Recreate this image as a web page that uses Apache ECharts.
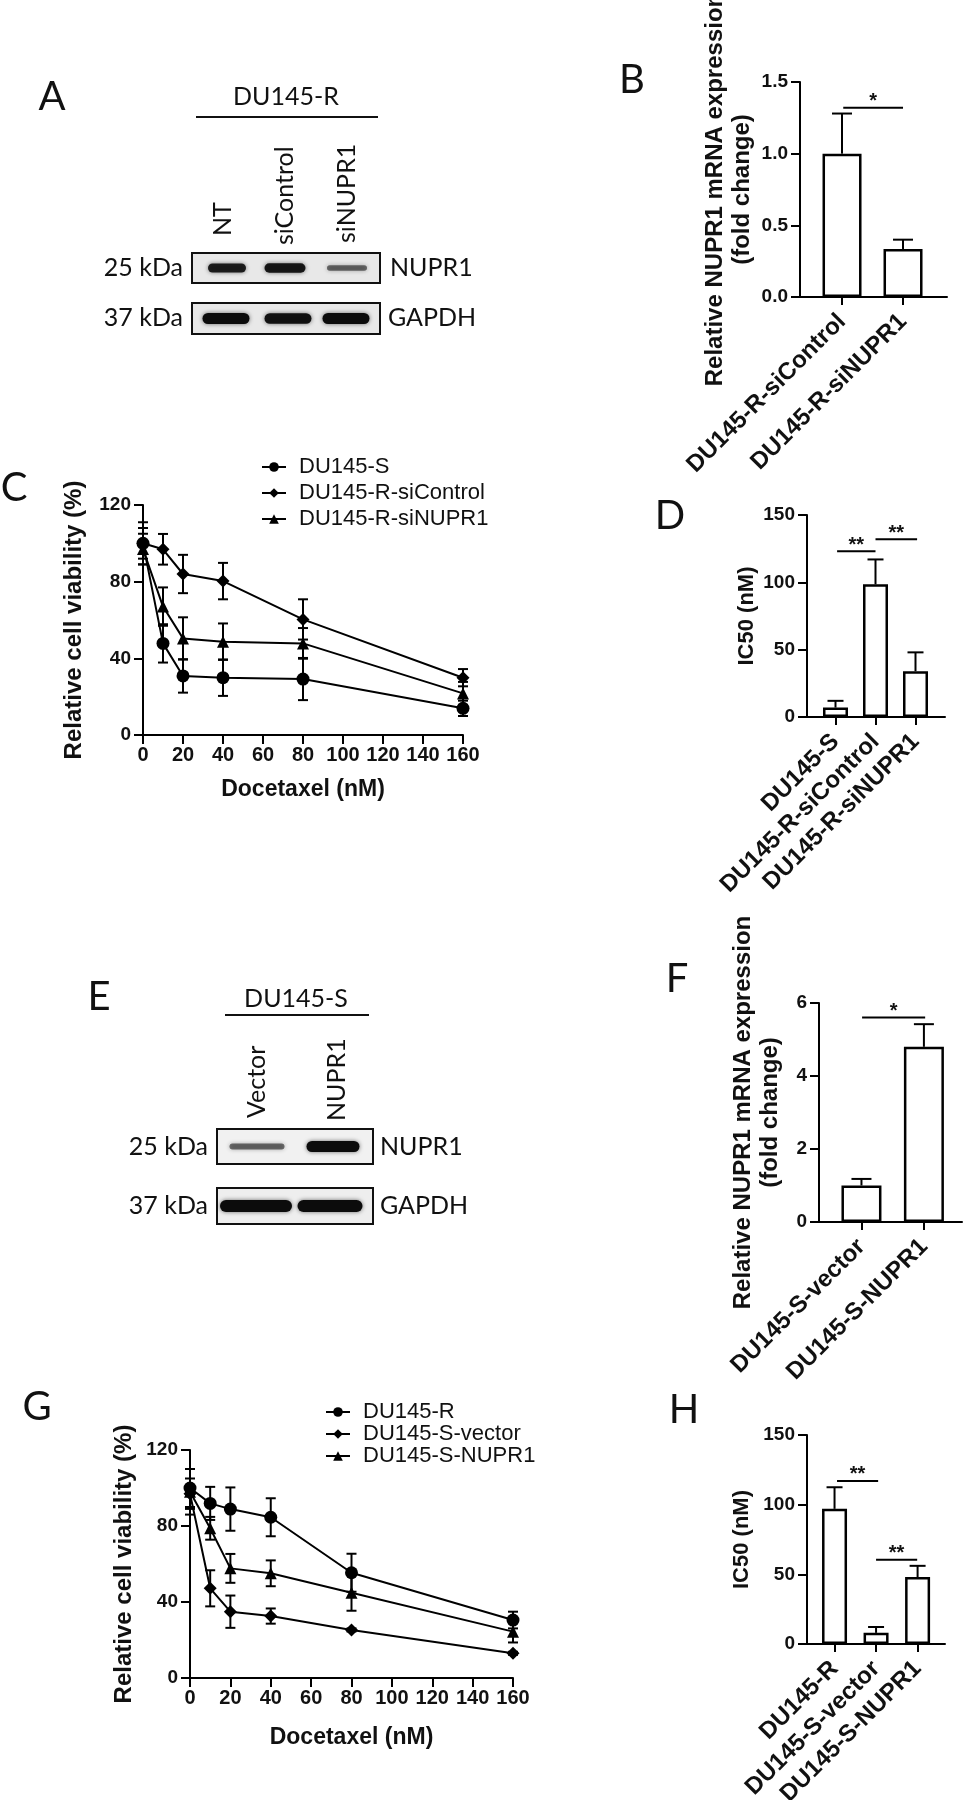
<!DOCTYPE html>
<html>
<head>
<meta charset="utf-8">
<script src="https://cdn.jsdelivr.net/npm/echarts@6/dist/echarts.min.js"></script>
<style>
html, body { margin: 0; padding: 0; background: #fff; }
#chart { width: 967px; height: 1800px; }
</style>
</head>
<body>
<div id="chart"></div>
<script>
// ---------- data ----------
// A / E : western blot lanes and relative band strength
var lanesA = ['NT', 'siControl', 'siNUPR1'];
var bandA_nupr1 = [0.85, 0.9, 0.3];
var bandA_gapdh = [1, 0.95, 1];
var lanesE = ['Vector', 'NUPR1'];
var bandE_nupr1 = [0.3, 1];
var bandE_gapdh = [1, 1];

// B : NUPR1 mRNA, DU145-R
var catB = ['DU145-R-siControl', 'DU145-R-siNUPR1'];
var meanB = [1.0, 0.335];
var errB = [0.28, 0.065];
var sigB = [[0.02, 1.0, 1.32, '*']];

// C : viability, DU145-R knockdown
var doses = [0, 10, 20, 40, 80, 160];
var cS = [100, 47.8, 30.8, 29.9, 29.2, 13.9];
var cS_err = [8, 10, 8.7, 9.5, 11, 4];
var cCtrl = [100, 96.9, 84, 80.3, 60.3, 29.9];
var cCtrl_err = [11, 8, 10, 9.5, 10.5, 4.5];
var cSi = [97, 67, 50.4, 48.7, 47.8, 21.7];
var cSi_err = [8, 10, 11, 9.5, 8, 6];

// D : IC50, DU145-R knockdown
var catD = ['DU145-S', 'DU145-R-siControl', 'DU145-R-siNUPR1'];
var meanD = [7, 98.5, 34];
var errD = [5, 18.5, 14];
var sigD = [[0.04, 1.0, 123, '**'], [1.0, 2.04, 132, '**']];

// F : NUPR1 mRNA, DU145-S overexpression
var catF = ['DU145-S-vector', 'DU145-S-NUPR1'];
var meanF = [1.0, 4.8];
var errF = [0.18, 0.62];
var sigF = [[0.01, 1.02, 5.6, '*']];

// G : viability, DU145-S overexpression
var gR = [100, 91.9, 88.9, 84.6, 55.4, 30.5];
var gR_err = [10, 8.7, 11.4, 10, 10, 4.4];
var gVec = [97, 47.2, 34.9, 32.6, 25.3, 13];
var gVec_err = [8, 9.5, 8.5, 4, 0.8, 0.8];
var gNu = [98, 78.8, 57.7, 55.1, 44.9, 24.4];
var gNu_err = [12, 6, 7.6, 6.8, 9.5, 5.7];

// H : IC50, DU145-S overexpression
var catH = ['DU145-R', 'DU145-S-vector', 'DU145-S-NUPR1'];
var meanH = [97, 8, 48];
var errH = [15.5, 4.2, 8.1];
var sigH = [[0.06, 1.05, 117, '**'], [1.0, 1.99, 60.5, '**']];

// ---------- helpers ----------
var FB = 'Liberation Sans';   // plot text (Arial look)
var FL = 'Lato';              // letters + blot text (Calibri look)
var INK = '#111';
var lineSt = { color: '#000', width: 2 };

function yAx(gi, min, max, step, name, gap, fmt, nameSize) {
  return {
    type: 'value', gridIndex: gi, min: min, max: max, interval: step,
    name: name, nameLocation: 'middle', nameGap: gap, nameMoveOverlap: false,
    nameTextStyle: { fontFamily: FB, fontWeight: 'bold', fontSize: nameSize || 24, color: INK, lineHeight: 27 },
    axisLine: { show: true, onZero: false, lineStyle: lineSt },
    axisTick: { show: true, length: 9, lineStyle: lineSt },
    axisLabel: { fontFamily: FB, fontWeight: 'bold', fontSize: 19, color: INK, margin: 12, formatter: fmt },
    splitLine: { show: false }
  };
}

function doseAx(gi, gap) {
  return {
    type: 'value', gridIndex: gi, min: 0, max: 160, interval: 20,
    name: 'Docetaxel (nM)', nameLocation: 'middle', nameGap: gap, nameMoveOverlap: false,
    nameTextStyle: { fontFamily: FB, fontWeight: 'bold', fontSize: 23, color: INK, lineHeight: 26 },
    axisLine: { onZero: false, lineStyle: lineSt },
    axisTick: { length: 9, lineStyle: lineSt },
    axisLabel: { fontFamily: FB, fontWeight: 'bold', fontSize: 20, color: INK, margin: 10 },
    splitLine: { show: false }
  };
}

// bar plots use a value x axis so the bar spacing can match GraphPad
function catAx(gi, min, max, cats) {
  var idx = cats.map(function (c, i) { return i; });
  return {
    type: 'value', gridIndex: gi, min: min, max: max,
    axisLine: { onZero: false, lineStyle: lineSt },
    axisTick: { customValues: idx, length: 8, lineStyle: lineSt },
    axisLabel: {
      customValues: idx, rotate: 45, margin: 21,
      fontFamily: FB, fontWeight: 'bold', fontSize: 24, color: INK,
      formatter: function (v) { return cats[Math.round(v)] || ''; }
    },
    splitLine: { show: false }
  };
}

function bars(gi, means, w) {
  return {
    type: 'bar', xAxisIndex: gi, yAxisIndex: gi, barWidth: w, silent: true, z: 2,
    data: means.map(function (m, i) { return [i, m]; }),
    itemStyle: { color: '#fff', borderColor: '#000', borderWidth: 2.5 }
  };
}

function barErr(gi, means, errs, cap) {
  return {
    type: 'custom', xAxisIndex: gi, yAxisIndex: gi, silent: true, z: 3,
    data: means.map(function (m, i) { return [i, m, errs[i]]; }),
    encode: { x: 0, y: 1 },
    renderItem: function (p, api) {
      var x = api.value(0), m = api.value(1), e = api.value(2);
      var a = api.coord([x, m]), b = api.coord([x, m + e]);
      var st = { stroke: '#000', lineWidth: 2 };
      return { type: 'group', children: [
        { type: 'line', shape: { x1: a[0], y1: a[1], x2: b[0], y2: b[1] }, style: st },
        { type: 'line', shape: { x1: b[0] - cap, y1: b[1], x2: b[0] + cap, y2: b[1] }, style: st }
      ] };
    }
  };
}

function sigMarks(gi, sig) {
  return {
    type: 'custom', xAxisIndex: gi, yAxisIndex: gi, silent: true, z: 4,
    data: sig.map(function (s) { return [s[0], s[2]]; }),
    encode: { x: 0, y: 1 },
    renderItem: function (p, api) {
      var s = sig[p.dataIndex];
      var a = api.coord([s[0], s[2]]), b = api.coord([s[1], s[2]]);
      return { type: 'group', children: [
        { type: 'line', shape: { x1: a[0], y1: a[1], x2: b[0], y2: b[1] }, style: { stroke: '#000', lineWidth: 2 } },
        { type: 'text', x: (a[0] + b[0]) / 2, y: a[1] - 6,
          style: { text: s[3], fontFamily: FB, fontWeight: 'bold', fontSize: 20, fill: INK, align: 'center', verticalAlign: 'middle' } }
      ] };
    }
  };
}

function curve(gi, name, vals, symbol, size) {
  return {
    type: 'line', name: name, xAxisIndex: gi, yAxisIndex: gi, silent: true, z: 3,
    data: doses.map(function (d, i) { return [d, vals[i]]; }),
    symbol: symbol, symbolSize: size, showSymbol: true,
    lineStyle: { color: '#000', width: 2 }, itemStyle: { color: '#000' }
  };
}

function curveErr(gi, vals, errs) {
  return {
    type: 'custom', xAxisIndex: gi, yAxisIndex: gi, silent: true, z: 2,
    data: doses.map(function (d, i) { return [d, vals[i], errs[i]]; }),
    encode: { x: 0, y: 1 },
    renderItem: function (p, api) {
      var x = api.value(0), m = api.value(1), e = api.value(2);
      var hi = api.coord([x, m + e]), lo = api.coord([x, m - e]);
      var st = { stroke: '#000', lineWidth: 2 };
      var c = 5;
      return { type: 'group', children: [
        { type: 'line', shape: { x1: hi[0], y1: hi[1], x2: lo[0], y2: lo[1] }, style: st },
        { type: 'line', shape: { x1: hi[0] - c, y1: hi[1], x2: hi[0] + c, y2: hi[1] }, style: st },
        { type: 'line', shape: { x1: lo[0] - c, y1: lo[1], x2: lo[0] + c, y2: lo[1] }, style: st }
      ] };
    }
  };
}

function legendCfg(names, left, top, lh, gap) {
  return {
    data: names, orient: 'vertical', left: left, top: top,
    itemWidth: 24, itemHeight: 12, itemGap: gap, selectedMode: false,
    textStyle: { fontFamily: FB, fontSize: 22, color: INK, lineHeight: lh, padding: [0, 0, 0, 8] }
  };
}

// ---------- graphic: panel letters and blots ----------
var gfx = [];
function txt(x, y, s, size, align, font, rot) {
  gfx.push({
    type: 'text', x: x, y: y, rotation: rot || 0, silent: true,
    style: { text: s, fontFamily: font || FL, fontSize: size, fill: INK, align: align || 'center', verticalAlign: 'middle' }
  });
}
function hline(x1, x2, y) {
  gfx.push({ type: 'line', silent: true, shape: { x1: x1, y1: y, x2: x2, y2: y }, style: { stroke: '#111', lineWidth: 2 } });
}
function blot(x, y, w, h, bg, centers, widths, intens, thick) {
  gfx.push({ type: 'rect', silent: true, shape: { x: x, y: y, width: w, height: h }, style: { fill: bg, stroke: '#111', lineWidth: 2 } });
  centers.forEach(function (c, i) {
    var bh = thick * (0.35 + 0.65 * intens[i]);
    gfx.push({
      type: 'rect', silent: true,
      shape: { x: c - widths[i] / 2, y: y + h / 2 - bh / 2, width: widths[i], height: bh, r: bh / 2 },
      style: { fill: 'rgba(12,12,12,' + (0.35 + 0.65 * intens[i]) + ')', shadowBlur: 4, shadowColor: 'rgba(0,0,0,0.55)' }
    });
  });
}

// panel letters
[['A', 52, 97], ['B', 632, 80], ['C', 14, 488], ['D', 670, 516],
 ['E', 99, 997], ['F', 677, 979], ['G', 37, 1407], ['H', 684, 1410]].forEach(function (l) {
  txt(l[1], l[2], l[0], 40);
});

// A blot
txt(286, 97, 'DU145-R', 25);
hline(196, 378, 117);
var laneAx = [223, 285, 347], laneAy = [236, 245, 243];
lanesA.forEach(function (s, i) { txt(laneAx[i], laneAy[i], s, 25, 'left', FL, Math.PI / 2); });
blot(192, 253, 188, 30, '#e8e8e8', [227, 285, 347], [38, 41, 40], bandA_nupr1, 10);
blot(192, 303, 188, 31, '#e8e8e8', [226, 288, 346], [47, 47, 47], bandA_gapdh, 11);
txt(183, 268, '25 kDa', 25, 'right');
txt(183, 318, '37 kDa', 25, 'right');
txt(390, 268, 'NUPR1', 25, 'left');
txt(388, 318, 'GAPDH', 25, 'left');

// E blot
txt(296, 999, 'DU145-S', 25);
hline(225, 369, 1015);
var laneEx = [257, 337], laneEy = [1118, 1121];
lanesE.forEach(function (s, i) { txt(laneEx[i], laneEy[i], s, 25, 'left', FL, Math.PI / 2); });
blot(217, 1129, 156, 35, '#f1f1f1', [257, 333], [55, 53], bandE_nupr1, 11);
blot(217, 1188, 156, 36, '#eeeeee', [256, 330], [72, 65], bandE_gapdh, 12);
txt(208, 1147, '25 kDa', 25, 'right');
txt(208, 1206, '37 kDa', 25, 'right');
txt(380, 1147, 'NUPR1', 25, 'left');
txt(380, 1206, 'GAPDH', 25, 'left');

// ---------- chart ----------
var chart = echarts.init(document.getElementById('chart'));
var option = {
  backgroundColor: '#fff',
  animation: false,
  grid: [
    { left: 800, top: 82, width: 147, height: 215, outerBoundsMode: 'none' },   // B
    { left: 143, top: 505, width: 320, height: 230, outerBoundsMode: 'none' },  // C
    { left: 807, top: 515, width: 138, height: 202, outerBoundsMode: 'none' },  // D
    { left: 819, top: 1003, width: 143, height: 219, outerBoundsMode: 'none' }, // F
    { left: 190, top: 1450, width: 323, height: 228, outerBoundsMode: 'none' }, // G
    { left: 807, top: 1435, width: 138, height: 209, outerBoundsMode: 'none' }  // H
  ],
  xAxis: [
    catAx(0, -0.689, 1.721, catB),
    doseAx(1, 42),
    catAx(2, -0.7125, 2.7375, catD),
    catAx(3, -0.68, 1.61, catF),
    doseAx(4, 47),
    catAx(5, -0.663, 2.66, catH)
  ],
  yAxis: [
    yAx(0, 0, 1.5, 0.5, 'Relative NUPR1 mRNA expression\n(fold change)', 44, function (v) { return v.toFixed(1); }),
    yAx(1, 0, 120, 40, 'Relative cell viability (%)', 55),
    yAx(2, 0, 150, 50, 'IC50 (nM)', 47, null, 22),
    yAx(3, 0, 6, 2, 'Relative NUPR1 mRNA expression\n(fold change)', 35),
    yAx(4, 0, 120, 40, 'Relative cell viability (%)', 52),
    yAx(5, 0, 150, 50, 'IC50 (nM)', 52, null, 22)
  ],
  legend: [
    legendCfg(['DU145-S', 'DU145-R-siControl', 'DU145-R-siNUPR1'], 256, 450, 24, 2),
    legendCfg(['DU145-R', 'DU145-S-vector', 'DU145-S-NUPR1'], 320, 1396, 22, 0)
  ],
  graphic: gfx,
  series: [
    // B
    bars(0, meanB, 39), barErr(0, meanB, errB, 10), sigMarks(0, sigB),
    // C
    curveErr(1, cS, cS_err), curveErr(1, cCtrl, cCtrl_err), curveErr(1, cSi, cSi_err),
    curve(1, 'DU145-S', cS, 'circle', 13),
    curve(1, 'DU145-R-siControl', cCtrl, 'diamond', 13),
    curve(1, 'DU145-R-siNUPR1', cSi, 'triangle', 12),
    // D
    bars(2, meanD, 25), barErr(2, meanD, errD, 8), sigMarks(2, sigD),
    // F
    bars(3, meanF, 40), barErr(3, meanF, errF, 10), sigMarks(3, sigF),
    // G
    curveErr(4, gR, gR_err), curveErr(4, gVec, gVec_err), curveErr(4, gNu, gNu_err),
    curve(4, 'DU145-R', gR, 'circle', 13),
    curve(4, 'DU145-S-vector', gVec, 'diamond', 13),
    curve(4, 'DU145-S-NUPR1', gNu, 'triangle', 12),
    // H
    bars(5, meanH, 25), barErr(5, meanH, errH, 8), sigMarks(5, sigH)
  ]
};
option && chart.setOption(option);
</script>
</body>
</html>
